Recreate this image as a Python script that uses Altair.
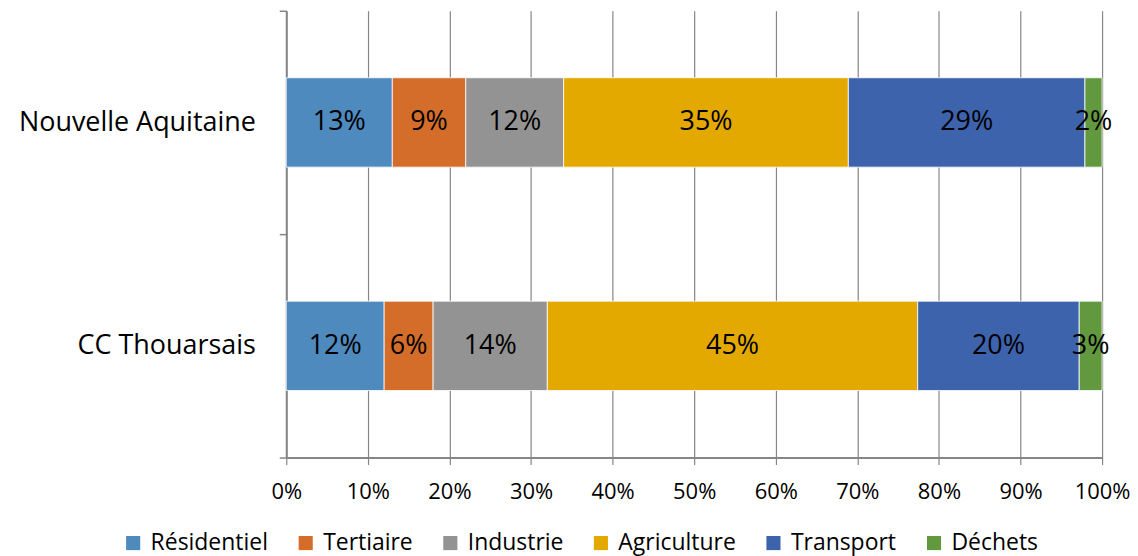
import altair as alt
import pandas as pd

regions = ["Nouvelle Aquitaine", "CC Thouarsais"]
sectors = ["Résidentiel", "Tertiaire", "Industrie", "Agriculture", "Transport", "Déchets"]
colors = ["#4F8ABF", "#D46D2A", "#939393", "#E3A900", "#3D63AD", "#62993E"]
na_values = [0.130, 0.090, 0.120, 0.349, 0.290, 0.021]
cc_values = [0.120, 0.060, 0.140, 0.454, 0.198, 0.028]

rows = []
for reg, vals in zip(regions, [na_values, cc_values]):
    for i, (s, v) in enumerate(zip(sectors, vals)):
        rows.append({"region": reg, "sector": s, "order": i, "value": v})
df = pd.DataFrame(rows)

FONT = "Open Sans"

base = alt.Chart(df).transform_window(
    cum="sum(value)", groupby=["region"], sort=[alt.SortField("order")]
).transform_calculate(
    start="datum.cum - datum.value", mid="datum.cum - datum.value / 2"
)

y_enc = alt.Y(
    "region:N",
    sort=regions,
    title=None,
    scale=alt.Scale(paddingInner=0, paddingOuter=0),
    axis=alt.Axis(
        labelFontSize=27, labelFont=FONT, labelColor="#000000", labelPadding=24,
        labelLimit=500,
        tickBand="extent", ticks=True, tickSize=7, tickColor="#868686", tickWidth=1.5,
        domainColor="#868686", domainWidth=2, grid=False,
    ),
)

bars = base.mark_bar(stroke="#ffffff", strokeWidth=0.8,
                     height=alt.RelativeBandSize(0.4)).encode(
    x=alt.X(
        "start:Q",
        scale=alt.Scale(domain=[0, 1], nice=False),
        title=None,
        axis=alt.Axis(
            format=".0%", values=[i / 10 for i in range(11)],
            labelFontSize=22, labelFont=FONT, labelColor="#000000", labelPadding=17,
            labelFlush=False,
            grid=True, gridColor="#868686", gridWidth=1.2,
            ticks=True, tickSize=7, tickColor="#868686", tickWidth=1.2,
            domainColor="#868686", domainWidth=2,
        ),
    ),
    x2="cum:Q",
    y=y_enc,
    color=alt.Color(
        "sector:N",
        sort=sectors,
        scale=alt.Scale(domain=sectors, range=colors),
        legend=alt.Legend(
            title=None, orient="none", direction="horizontal", columns=6,
            legendX=-165, legendY=522,
            symbolType="square", symbolSize=200, symbolStrokeWidth=0,
            labelFontSize=23, labelFont=FONT, labelColor="#000000",
            labelOffset=6, columnPadding=26,
        ),
    ),
)

labels = base.mark_text(fontSize=27, font=FONT, color="#000000").encode(
    x=alt.X("mid:Q"),
    y=alt.Y("region:N", sort=regions),
    text=alt.Text("value:Q", format=".0%"),
)

chart = alt.layer(bars, labels).properties(
    width=818, height=448,
    padding={"left": 10, "top": -12, "right": 0, "bottom": 14},
).configure_view(stroke=None)

chart.save("out.html", embed_options={"renderer": "svg", "actions": False})
